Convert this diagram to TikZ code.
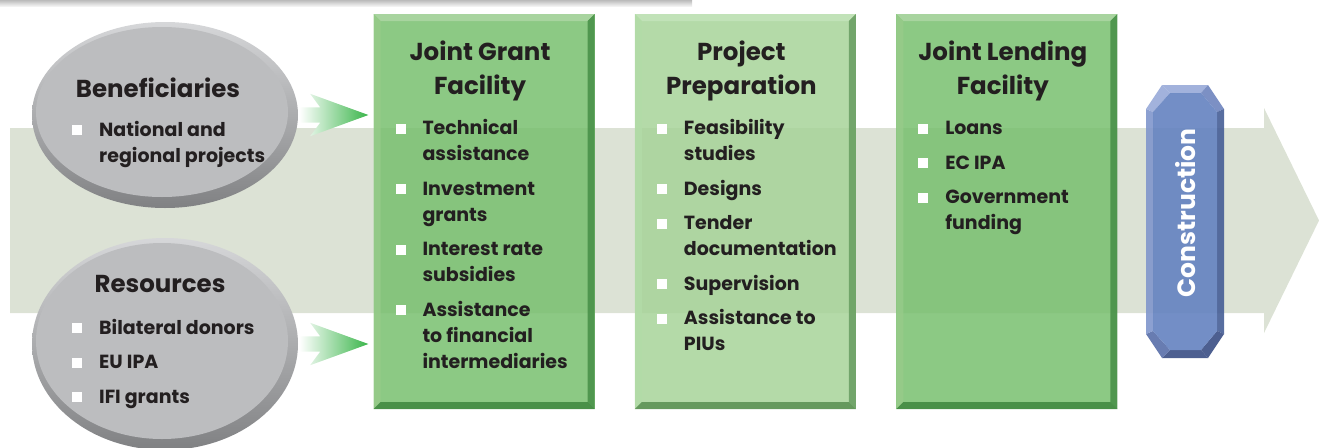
\documentclass[tikz,border=0pt]{standalone}
\usepackage{fontspec}
\setmainfont{Poppins}
\usetikzlibrary{positioning}
\usetikzlibrary{shapes.geometric}
\usetikzlibrary{shapes.arrows}

\definecolor{ink}{RGB}{35,31,32}
\definecolor{bandcol}{RGB}{220,226,213}
\definecolor{ovalgray}{RGB}{188,189,191}
\definecolor{ovallight}{RGB}{214,215,217}
\definecolor{ovaldark}{RGB}{128,129,131}
\definecolor{flowgreen}{RGB}{58,181,74}
\definecolor{grantgreen}{RGB}{120,191,110}
\definecolor{granttop}{RGB}{173,215,164}
\definecolor{grantleft}{RGB}{150,203,137}
\definecolor{grantright}{RGB}{70,143,70}
\definecolor{grantbottom}{RGB}{62,134,62}
\definecolor{prepgreen}{RGB}{167,211,153}
\definecolor{preptop}{RGB}{196,228,187}
\definecolor{prepleft}{RGB}{178,220,167}
\definecolor{prepright}{RGB}{103,157,96}
\definecolor{prepbottom}{RGB}{87,143,80}
\definecolor{conmain}{RGB}{100,130,192}
\definecolor{contop}{RGB}{152,170,216}
\definecolor{conleft}{RGB}{128,150,204}
\definecolor{conright}{RGB}{70,94,150}
\definecolor{conbottom}{RGB}{58,78,132}
\definecolor{conupright}{RGB}{110,132,190}
\definecolor{conlowleft}{RGB}{88,110,168}

\newcommand{\sqbullet}{\textcolor{white}{\rule[1pt]{10pt}{10pt}}}

\tikzstyle{title} = [inner sep=0pt, anchor=base, align=center, text=ink, font=\fontsize{24.5}{34}\selectfont\bfseries]
\tikzstyle{items} = [inner sep=0pt, anchor=base west, text=ink, font=\fontsize{19}{26}\selectfont\bfseries]
\tikzstyle{facility} = [minimum width=221pt, minimum height=395pt, inner sep=0pt, fill opacity=.85]
\tikzstyle{flow} = [single arrow, single arrow tip angle=40, single arrow head indent=10pt,
                    single arrow head extend=13.5pt, minimum height=69pt, inner xsep=0pt,
                    inner ysep=7.5pt, left color=white, right color=flowgreen]
\tikzset{
  bevel/.style n args={4}{path picture={
      \coordinate (bnw) at (path picture bounding box.north west);
      \coordinate (bne) at (path picture bounding box.north east);
      \coordinate (bsw) at (path picture bounding box.south west);
      \coordinate (bse) at (path picture bounding box.south east);
      \fill[#1] (bnw) -- (bne) -- ([shift={(-7pt,-7pt)}]bne) -- ([shift={(7pt,-7pt)}]bnw) -- cycle;
      \fill[#2] (bnw) -- ([shift={(7pt,-7pt)}]bnw) -- ([shift={(7pt,7pt)}]bsw) -- (bsw) -- cycle;
      \fill[#3] (bne) -- ([shift={(-7pt,-7pt)}]bne) -- ([shift={(-7pt,7pt)}]bse) -- (bse) -- cycle;
      \fill[#4] (bsw) -- ([shift={(7pt,7pt)}]bsw) -- ([shift={(-7pt,7pt)}]bse) -- (bse) -- cycle;
  }},
  oval/.style 2 args={ellipse, inner sep=0pt, minimum width=266pt, minimum height=#1,
      top color=ovallight, bottom color=ovaldark,
      path picture={\fill[ovalgray] ([shift={(-3pt,3pt)}]path picture bounding box.center) ellipse (126pt and #2);}}
}

\begin{document}
\begin{tikzpicture}[x=1pt, y=-1pt,
                    contitle/.style={rotate=90, inner sep=0pt, text=white, font=\fontsize{25}{28}\selectfont\bfseries}]
  \useasboundingbox (0,0) rectangle (1319,447);

  % header bar and the long background arrow
  \shade[top color=gray!75, bottom color=gray!10] (0,-3) rectangle (692,6);
  \fill[bandcol] (10,128) -- (1264,128) -- (1264,108) -- (1319,220.5) -- (1264,333)
                 -- (1264,313) -- (10,313) -- cycle;

  % sources
  \node[oval={186pt}{85pt}] (ben) at (165,115) {};
  \node[oval={212pt}{98pt}] (res) at (165,344) {};

  % facilities
  \node[facility, fill=grantgreen, bevel={granttop}{grantleft}{grantright}{grantbottom}] (jgf) at (484,211.5) {};
  \node[facility, fill=prepgreen, bevel={preptop}{prepleft}{prepright}{prepbottom}] (pp) [right=40pt of jgf] {};
  \node[facility, fill=grantgreen, bevel={granttop}{grantleft}{grantright}{grantbottom}] (jlf) [right=40pt of pp] {};

  \node[flow] (flowA) [right=1pt of ben.east] {};
  \node[flow] (flowB) [right=1pt of res.east] {};

  % construction block
  \coordinate (o1) at (1162,85);  \coordinate (o2) at (1208,85);
  \coordinate (o3) at (1224,109); \coordinate (o4) at (1224,334);
  \coordinate (o5) at (1208,358); \coordinate (o6) at (1162,358);
  \coordinate (o7) at (1146,334); \coordinate (o8) at (1146,109);
  \coordinate (i1) at (1170,93);  \coordinate (i2) at (1201,93);
  \coordinate (i3) at (1217,112); \coordinate (i4) at (1217,331);
  \coordinate (i5) at (1201,350); \coordinate (i6) at (1170,350);
  \coordinate (i7) at (1153,331); \coordinate (i8) at (1153,112);
  \begin{scope}[fill opacity=.9]
    \foreach \a/\b/\c in {1/2/contop, 2/3/conupright, 3/4/conright, 4/5/conbottom,
                          5/6/conbottom, 6/7/conlowleft, 7/8/conleft, 8/1/contop}
      \fill[\c] (o\a) -- (o\b) -- (i\b) -- (i\a) -- cycle;
    \fill[conmain] (i1) -- (i2) -- (i3) -- (i4) -- (i5) -- (i6) -- (i7) -- (i8) -- cycle;
  \end{scope}
  \node[contitle] (con) at (1186,213) {Construction};

  % texts
  \node[title] (benT) at (158,97) {Beneficiaries};
  \node[items] (benL) at (72,136) {\begin{tabular}[t]{@{}l@{\hspace{17pt}}l@{}}
      \sqbullet & National and\\ & regional projects\end{tabular}};
  \node[title] (resT) at (160,292) {Resources};
  \node[items] (resL) at (72,334) {\begin{tabular}[t]{@{}l@{\hspace{17pt}}l@{}}
      \sqbullet & Bilateral donors\\[8.5pt]
      \sqbullet & EU IPA\\[8.5pt]
      \sqbullet & IFI grants\end{tabular}};

  \node[title] (jgfT) at ([shift={(-4pt,-81pt)}]jgf.north) {Joint Grant\\Facility};
  \node[items] (jgfL) at ([shift={(22pt,-121pt)}]jgf.north west) {\begin{tabular}[t]{@{}l@{\hspace{17pt}}l@{}}
      \sqbullet & Technical\\ & assistance\\[8.5pt]
      \sqbullet & Investment\\ & grants\\[8.5pt]
      \sqbullet & Interest rate\\ & subsidies\\[8.5pt]
      \sqbullet & Assistance\\ & to financial\\ & intermediaries\end{tabular}};

  \node[title] (ppT) at ([shift={(-4pt,-81pt)}]pp.north) {Project\\Preparation};
  \node[items] (ppL) at ([shift={(22pt,-121pt)}]pp.north west) {\begin{tabular}[t]{@{}l@{\hspace{17pt}}l@{}}
      \sqbullet & Feasibility\\ & studies\\[8.5pt]
      \sqbullet & Designs\\[8.5pt]
      \sqbullet & Tender\\ & documentation\\[8.5pt]
      \sqbullet & Supervision\\[8.5pt]
      \sqbullet & Assistance to\\ & PIUs\end{tabular}};

  \node[title] (jlfT) at ([shift={(-4pt,-81pt)}]jlf.north) {Joint Lending\\Facility};
  \node[items] (jlfL) at ([shift={(22pt,-121pt)}]jlf.north west) {\begin{tabular}[t]{@{}l@{\hspace{17pt}}l@{}}
      \sqbullet & Loans\\[8.5pt]
      \sqbullet & EC IPA\\[8.5pt]
      \sqbullet & Government\\ & funding\end{tabular}};
\end{tikzpicture}
\end{document}
